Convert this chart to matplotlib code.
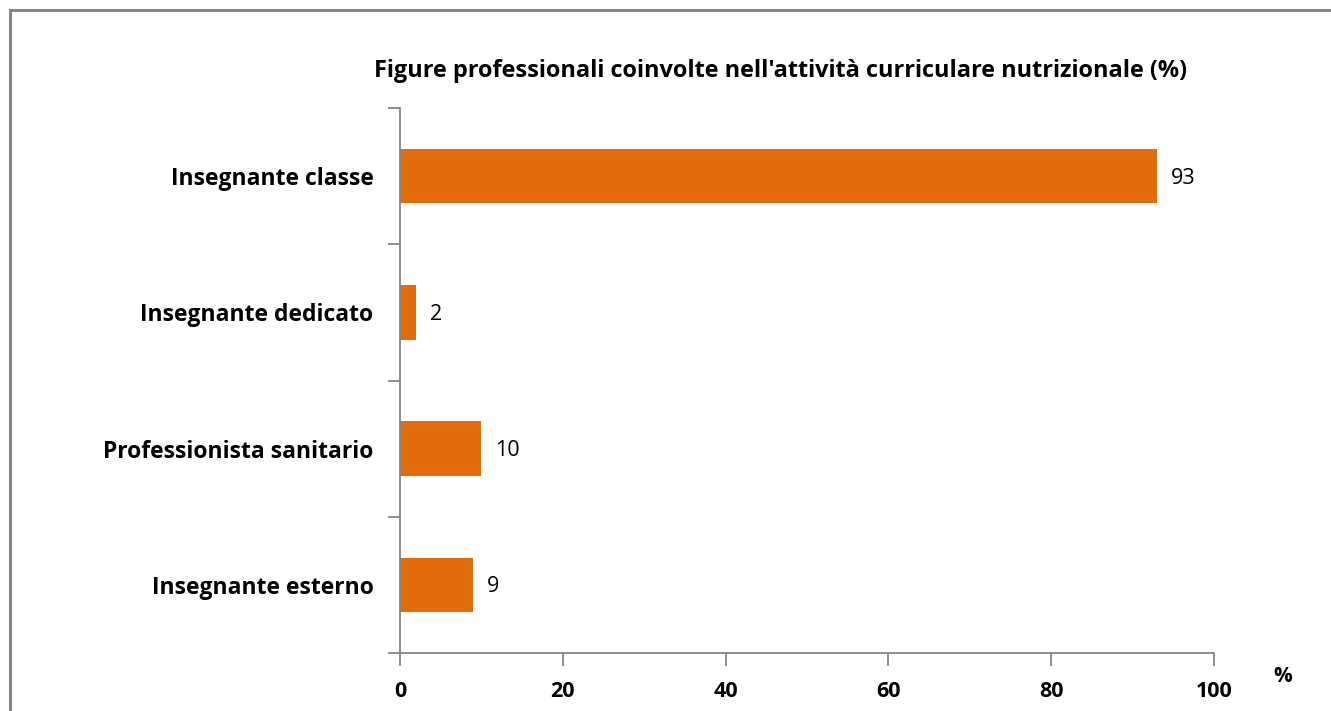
import numpy as np
import matplotlib.pyplot as plt
from matplotlib.patches import Rectangle

categorie = ["Insegnante classe", "Insegnante dedicato", "Professionista sanitario", "Insegnante esterno"]
valori = [93, 2, 10, 9]
titolo = "Figure professionali coinvolte nell'attività curriculare nutrizionale (%)"
xticks = [0, 20, 40, 60, 80, 100]

plt.rcParams['font.family'] = ['Open Sans', 'DejaVu Sans']

fig = plt.figure(figsize=(13.31, 7.11), dpi=100)
# bordo grigio del grafico
fig.patches.append(Rectangle((10 / 1331, -0.01), 1.02, 1 - 10 / 711 + 0.01, transform=fig.transFigure,
                             fill=False, edgecolor='#868686', linewidth=2.2, clip_on=False))

ax = fig.add_axes([400 / 1331, 1 - 653 / 711, 814 / 1331, 545 / 711])
pos = np.arange(len(categorie))[::-1]
ax.barh(pos, valori, height=0.4, color='#E36C0A')
for p, v in zip(pos, valori):
    ax.text(v + 1.7, p - 0.015, str(v), va='center', ha='left', fontsize=15.5, color='black')

ax.set_xlim(0, 100)
ax.set_ylim(-0.5, len(categorie) - 0.5)
ax.set_xticks(xticks)
ax.set_xticklabels([str(t) for t in xticks], fontsize=15.5, fontweight='bold')
ax.set_yticks(np.arange(-0.5, len(categorie), 1.0))
ax.set_yticklabels([])
ax.set_yticks(pos, minor=True)
ax.set_yticklabels(categorie, minor=True, fontsize=16.5, fontweight='bold')
ax.tick_params(axis='y', which='major', length=9, width=1.3, color='#868686', direction='out')
ax.tick_params(axis='y', which='minor', length=0, pad=19)
ax.tick_params(axis='x', length=9, width=1.3, color='#868686', direction='out', pad=11)

for s in ['top', 'right']:
    ax.spines[s].set_visible(False)
for s in ['left', 'bottom']:
    ax.spines[s].set_color('#868686')
    ax.spines[s].set_linewidth(1.3)

ax.set_title(titolo, fontsize=16.9, fontweight='bold', pad=22, x=0.468)
fig.text(1283 / 1331, 1 - 677 / 711, "%", fontsize=15, fontweight='bold', ha='center', va='center')

fig.savefig("out.png", dpi=100)
